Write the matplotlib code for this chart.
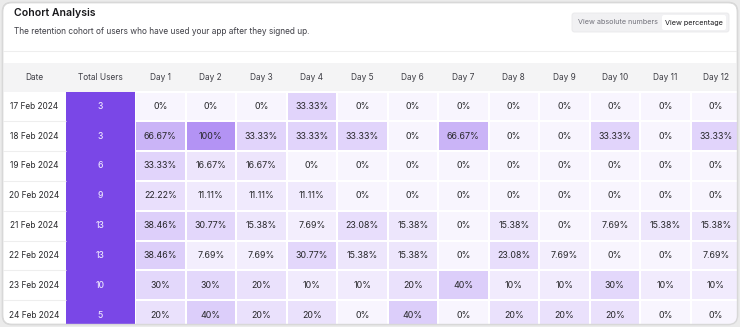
import numpy as np
import matplotlib.pyplot as plt
from matplotlib.patches import FancyBboxPatch, Rectangle
from matplotlib.colors import LinearSegmentedColormap, ListedColormap

plt.rcParams['font.family'] = ['Inter', 'DejaVu Sans']

# === Données
dates = ["17 Feb 2024", "18 Feb 2024", "19 Feb 2024", "20 Feb 2024",
         "21 Feb 2024", "22 Feb 2024", "23 Feb 2024", "24 Feb 2024"]
total_users = [3, 3, 6, 9, 13, 13, 10, 5]
day_labels = ["Day 1", "Day 2", "Day 3", "Day 4", "Day 5", "Day 6",
              "Day 7", "Day 8", "Day 9", "Day 10", "Day 11", "Day 12"]
retention = [
    [0, 0, 0, 33.33, 0, 0, 0, 0, 0, 0, 0, 0],
    [66.67, 100, 33.33, 33.33, 33.33, 0, 66.67, 0, 0, 33.33, 0, 33.33],
    [33.33, 16.67, 16.67, 0, 0, 0, 0, 0, 0, 0, 0, 0],
    [22.22, 11.11, 11.11, 11.11, 0, 0, 0, 0, 0, 0, 0, 0],
    [38.46, 30.77, 15.38, 7.69, 23.08, 15.38, 0, 15.38, 0, 7.69, 15.38, 15.38],
    [38.46, 7.69, 7.69, 30.77, 15.38, 15.38, 0, 23.08, 7.69, 0, 0, 7.69],
    [30, 30, 20, 10, 10, 20, 40, 10, 10, 30, 10, 10],
    [20, 40, 20, 20, 0, 40, 0, 20, 20, 20, 0, 0],
]

# === Mise en page (pixels)
W, H = 740, 327
LEFT, RIGHT = 2.5, 737.5
DATE_W, TOTAL_W, DAY_W = 63.5, 69, 50.5
HEAD_TOP, HEAD_BOT, ROW_H = 63, 91.5, 29.8

fig = plt.figure(figsize=(W / 100, H / 100), dpi=100)
fig.patch.set_facecolor('#ebebeb')
ax = fig.add_axes([0, 0, 1, 1])
ax.set_xlim(0, W)
ax.set_ylim(H, 0)
ax.axis('off')

card = FancyBboxPatch((LEFT, 2.5), RIGHT - LEFT, H - 5,
                      boxstyle="round,pad=0,rounding_size=9",
                      fc='white', ec='#d8d8d8', lw=1, zorder=0)
ax.add_patch(card)

# === En-tête
ax.text(14, 13.5, "Cohort Analysis", fontsize=7.6, fontweight='semibold',
        color='#18181b', va='center')
ax.text(14, 31, "The retention cohort of users who have used your app after they signed up.",
        fontsize=6.0, color='#3f3f46', va='center')
ax.hlines(51, LEFT, RIGHT, color='#eeeeee', lw=0.8)

grp = FancyBboxPatch((572, 13), 157, 19, boxstyle="round,pad=0,rounding_size=2.5",
                     fc='#f1f1f3', ec='#e8e8ea', lw=0.6)
ax.add_patch(grp)
btn = FancyBboxPatch((662, 15), 64, 15, boxstyle="round,pad=0,rounding_size=2",
                     fc='white', ec='none')
ax.add_patch(btn)
ax.text(617.5, 22.5, "View absolute numbers", fontsize=5.2, color='#71717a',
        ha='center', va='center')
ax.text(694, 22.5, "View percentage", fontsize=5.2, color='#18181b',
        ha='center', va='center')

# === Tableau
x_date = LEFT
x_total = LEFT + DATE_W
x_day = x_total + TOTAL_W + DAY_W * np.arange(len(day_labels) + 1)
row_y = HEAD_BOT + ROW_H * np.arange(len(dates) + 1)

head = Rectangle((LEFT, HEAD_TOP), RIGHT - LEFT, HEAD_BOT - HEAD_TOP,
                 fc='#f4f4f5', ec='none')
ax.add_patch(head)
hy = (HEAD_TOP + HEAD_BOT) / 2
ax.text(x_date + DATE_W / 2, hy, "Date", fontsize=6, color='#3f3f46', ha='center', va='center')
ax.text(x_total + TOTAL_W / 2, hy, "Total Users", fontsize=6, color='#3f3f46', ha='center', va='center')
for j, lab in enumerate(day_labels):
    ax.text((x_day[j] + x_day[j + 1]) / 2, hy, lab, fontsize=6, color='#3f3f46',
            ha='center', va='center', clip_on=True)

cmap = LinearSegmentedColormap.from_list("ret", ['#f8f5fe', '#b393f4'])
C = np.array(retention) / 100
mesh = ax.pcolormesh(x_day, row_y, C, cmap=cmap, vmin=0, vmax=1,
                     edgecolors='white', linewidth=0.35)
mesh.set_clip_path(card)

tot = ax.pcolormesh([x_total, x_total + TOTAL_W], row_y,
                    np.array(total_users, dtype=float)[:, None],
                    cmap=ListedColormap(['#7a47e7']), edgecolors='none')
tot.set_clip_path(card)

ax.hlines(row_y[1:-1], x_date, x_total, color='#eeeeee', lw=0.8)

for i, d in enumerate(dates):
    cy = (row_y[i] + row_y[i + 1]) / 2
    ax.text(x_date + DATE_W / 2, cy, d, fontsize=6.0, color='#27272a',
            ha='center', va='center')
    ax.text(x_total + TOTAL_W / 2, cy, str(total_users[i]), fontsize=6.2,
            color='#ece5fd', fontweight='medium', ha='center', va='center')
    for j, v in enumerate(retention[i]):
        ax.text((x_day[j] + x_day[j + 1]) / 2, cy, f"{v:g}%", fontsize=6.4,
                color='#27272a', ha='center', va='center')

# bordure de la carte par-dessus le tableau
border = FancyBboxPatch((LEFT, 2.5), RIGHT - LEFT, H - 5,
                        boxstyle="round,pad=0,rounding_size=9",
                        fc='none', ec='#d8d8d8', lw=1, zorder=5)
ax.add_patch(border)

fig.savefig("out.png", dpi=100, facecolor=fig.get_facecolor())
